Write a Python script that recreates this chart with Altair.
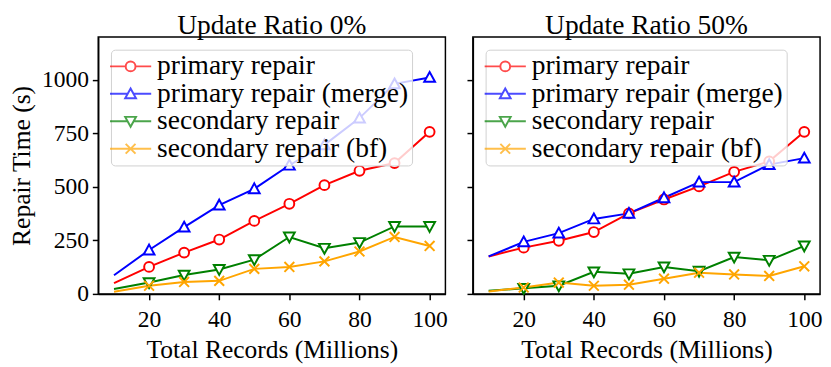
import altair as alt
import pandas as pd

records = [10, 20, 30, 40, 50, 60, 70, 80, 90, 100]
series = ["primary repair", "primary repair (merge)", "secondary repair", "secondary repair (bf)"]
colors = ["#ff0000", "#0000ff", "#008000", "#ffa500"]

# Update Ratio 0%
u0_primary = [50, 126, 193, 254, 341, 421, 508, 575, 611, 757]
u0_primary_merge = [87, 205, 312, 415, 491, 601, 696, 821, 981, 1011]
u0_secondary = [23, 53, 88, 114, 160, 266, 213, 240, 315, 315]
u0_secondary_bf = [10, 38, 56, 61, 117, 126, 152, 198, 266, 224]

# Update Ratio 50%
u50_primary = [175, 216, 248, 289, 376, 441, 502, 570, 619, 757]
u50_primary_merge = [175, 243, 284, 350, 376, 449, 522, 522, 604, 634]
u50_secondary = [15, 26, 38, 103, 94, 126, 106, 172, 157, 224]
u50_secondary_bf = [11, 30, 53, 38, 43, 71, 99, 91, 84, 129]

panels = [
    ("Update Ratio 0%", [u0_primary, u0_primary_merge, u0_secondary, u0_secondary_bf]),
    ("Update Ratio 50%", [u50_primary, u50_primary_merge, u50_secondary, u50_secondary_bf]),
]

marker_paths = [
    "M-1,0A1,1,0,1,1,1,0A1,1,0,1,1,-1,0Z",
    "M0,-1.1L1.1,0.9L-1.1,0.9Z",
    "M0,1.1L1.1,-0.9L-1.1,-0.9Z",
    "M-1,-1L1,1M-1,1L1,-1",
]
legend_paths = [
    "M-4.2,0H-1M1,0H4.2M-1,0A1,1,0,1,1,1,0A1,1,0,1,1,-1,0Z",
    "M-4.2,0H-0.6M0.6,0H4.2M0,-1.1L1.1,0.9L-1.1,0.9Z",
    "M-4.2,0H-0.6M0.6,0H4.2M0,1.1L1.1,-0.9L-1.1,-0.9Z",
    "M-4.2,0H4.2M-1,-1L1,1M-1,1L1,-1",
]

FONT = "Liberation Serif"

# per-entry legend symbol colour, looked up from the series/colour lists
legend_color_expr = ""
for s, c in zip(series[:-1], colors[:-1]):
    legend_color_expr += f"datum.value == '{s}' ? '{c}' : "
legend_color_expr += f"'{colors[-1]}'"


def make_df(vals):
    rows = []
    for s, v in zip(series, vals):
        for r, y in zip(records, v):
            rows.append({"records": r, "time": y, "series": s})
    return pd.DataFrame(rows)


def panel(title, vals, show_y):
    df = make_df(vals)
    base = alt.Chart(df)
    x = alt.X(
        "records:Q",
        scale=alt.Scale(domain=[5.5, 104.5], nice=False, zero=False),
        axis=alt.Axis(
            values=[20, 40, 60, 80, 100],
            title="Total Records (Millions)",
            labelPadding=8,
            titlePadding=6,
        ),
    )
    y = alt.Y(
        "time:Q",
        scale=alt.Scale(domain=[0, 1200], nice=False),
        axis=alt.Axis(
            values=[0, 250, 500, 750, 1000],
            format="d",
            title="Repair Time (s)" if show_y else None,
            labels=show_y,
            titlePadding=7,
        ),
    )
    stroke = alt.Stroke("series:N", scale=alt.Scale(domain=series, range=colors), legend=None)
    line = base.mark_line(strokeWidth=2, clip=True).encode(x=x, y=y, stroke=stroke)
    pts = (
        base.transform_filter(alt.datum.records >= 20)
        .mark_point(filled=True, fill="white", size=100, strokeWidth=2, opacity=1)
        .encode(
            x=x,
            y=y,
            stroke=stroke,
            shape=alt.Shape("series:N", scale=alt.Scale(domain=series, range=marker_paths), legend=None),
        )
    )
    leg = alt.Legend(
        title=None,
        orient="top-left",
        offset=13,
        fillColor="rgba(255,255,255,0.8)",
        strokeColor="#d0d0d0",
        cornerRadius=4,
        padding=3,
        labelFont=FONT,
        labelFontSize=28,
        labelColor="black",
        symbolSize=100,
        symbolStrokeWidth=2,
        symbolStrokeColor=alt.ExprRef(legend_color_expr),
        symbolOffset=3,
        labelOffset=13,
        rowPadding=0,
        labelLimit=400,
    )
    legend_layer = (
        base.transform_filter(alt.datum.records < 0)
        .mark_point(filled=False, size=100, strokeWidth=2)
        .encode(
            x=x,
            y=y,
            color=alt.Color("series:N", scale=alt.Scale(domain=series, range=colors), legend=leg),
            shape=alt.Shape("series:N", scale=alt.Scale(domain=series, range=legend_paths), legend=leg),
        )
    )
    return (
        alt.layer(line, pts, legend_layer)
        .resolve_scale(shape="independent")
        .properties(
            width=354,
            height=262,
            title=alt.TitleParams(title, font=FONT, fontSize=28, fontWeight="normal", color="black", offset=-3),
        )
    )


left = panel(panels[0][0], panels[0][1], True)
right = panel(panels[1][0], panels[1][1], False)

chart = (
    alt.hconcat(left, right, spacing=17)
    .resolve_scale(color="independent", shape="independent", stroke="independent")
    .resolve_legend(color="independent", shape="independent")
    .properties(padding={"left": 0, "top": 0, "right": 0, "bottom": 0})
    .configure_view(stroke="black", strokeWidth=1.5)
    .configure_axis(
        domainColor="black",
        domainWidth=1.5,
        tickColor="black",
        tickWidth=1.5,
        tickSize=6,
        grid=False,
        labelFont=FONT,
        labelFontSize=24,
        labelColor="black",
        labelPadding=4,
        titleFont=FONT,
        titleFontSize=26,
        titleFontWeight="normal",
        titleColor="black",
    )
)

chart.save("out.html", embed_options={"renderer": "svg", "actions": False})
